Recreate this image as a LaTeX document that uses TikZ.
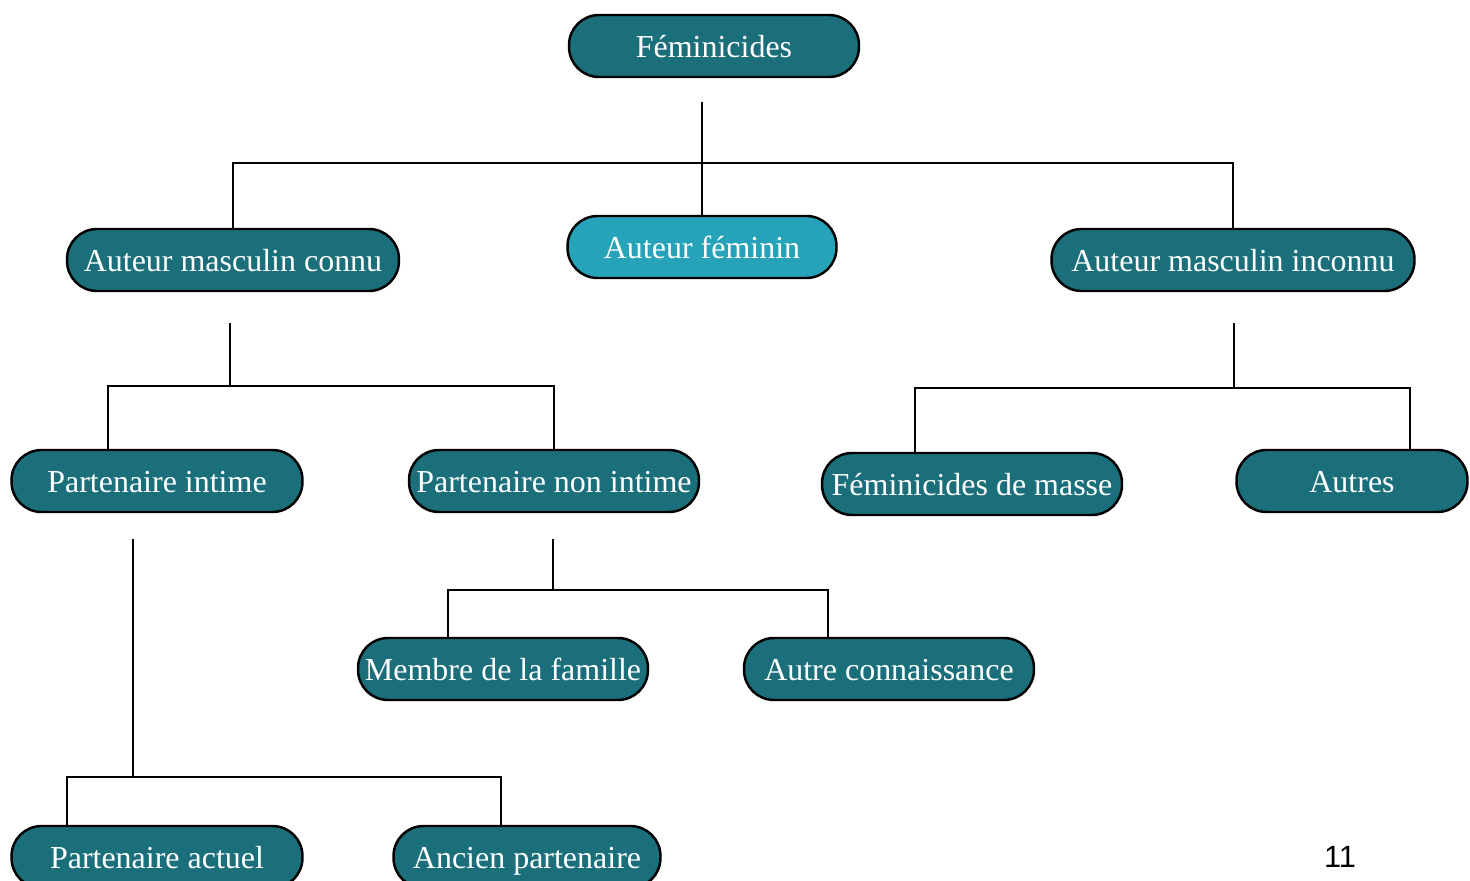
\documentclass[tikz,border=0pt]{standalone}
\usepackage{fontspec}
\setmainfont{Liberation Serif}
\newfontfamily\numfont{Liberation Sans}
\usepackage{tikz}
\definecolor{tealdark}{HTML}{1B6F7B}
\definecolor{teallight}{HTML}{26A3B8}

\begin{document}
\begin{tikzpicture}[x=0.02cm,y=-0.02cm,
  pill/.style={draw=black,line width=1.4pt,fill=tealdark,text=white,
    rounded corners=0.6cm,minimum height=1.24cm,inner sep=0pt,
    text height=16.3pt,text depth=3.5pt,
    font=\fontsize{18.2}{20}\selectfont},
  link/.style={line width=1.1pt}]
\useasboundingbox (0,0) rectangle (1470,881);
% Draw the boxes
\node[pill,minimum width=5.8cm] (fem) at (714,46) {Féminicides};
\node[pill,minimum width=6.64cm] (amc) at (233,260) {Auteur masculin connu};
\node[pill,minimum width=5.38cm,fill=teallight] (af) at (702,247) {Auteur féminin};
\node[pill,minimum width=7.26cm] (ami) at (1233,260) {Auteur masculin inconnu};
\node[pill,minimum width=5.82cm] (pi) at (157,481) {Partenaire intime};
\node[pill,minimum width=5.8cm] (pni) at (554,481) {Partenaire non intime};
\node[pill,minimum width=6cm] (fdm) at (972,484) {Féminicides de masse};
\node[pill,minimum width=4.62cm] (aut) at (1352,481) {Autres};
\node[pill,minimum width=5.8cm] (mf) at (503,669) {Membre de la famille};
\node[pill,minimum width=5.8cm] (ac) at (889,669) {Autre connaissance};
\node[pill,minimum width=5.82cm] (pa) at (157,857) {Partenaire actuel};
\node[pill,minimum width=5.34cm] (ap) at (527,857) {Ancien partenaire};
\node[font=\numfont\fontsize{17.5}{20}\selectfont] (pg) at (1340,857) {11};
% Draw the links
\draw[link] (fem.south) ++(-12,24) -- (af.north);
\draw[link] (amc.north) -- ++(0,-65) -| (ami.north);
\draw[link] (amc.south) ++(-3,31) -- ++(0,63) coordinate (j2);
\draw[link] ([xshift=-0.98cm]pi.north) |- (j2) -| (pni.north);
\draw[link] (ami.south) ++(1,31) -- ++(0,65) coordinate (j3);
\draw[link] ([xshift=-1.14cm]fdm.north) |- (j3) -| ([xshift=1.16cm]aut.north);
\draw[link] (pni.south) ++(-1,26) -- ++(0,51) coordinate (j4);
\draw[link] ([xshift=-1.1cm]mf.north) |- (j4) -| ([xshift=-1.22cm]ac.north);
\draw[link] (pi.south) ++(-24,26) -- ++(0,238) coordinate (j5);
\draw[link] ([xshift=-1.8cm]pa.north) |- (j5) -| ([xshift=-0.52cm]ap.north);
\end{tikzpicture}
\end{document}
